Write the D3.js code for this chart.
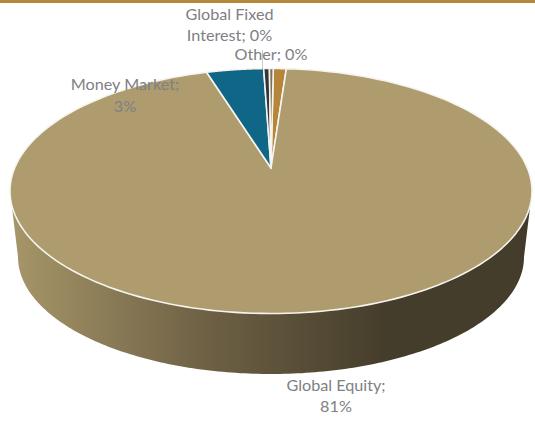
<!DOCTYPE html>
<html>
<head>
<meta charset="utf-8">
<script src="https://cdn.jsdelivr.net/npm/d3@7/dist/d3.min.js"></script>
<style>
html,body{margin:0;padding:0;background:#fff;overflow:hidden}
svg{display:block}
text{font-family:Lato,"Open Sans",sans-serif;font-size:16.2px;fill:#808084}
</style>
</head>
<body>
<svg id="chart" width="535" height="428"></svg>
<script>
// Allocation shares, clockwise from just right of twelve o'clock.
const categories = ["Unlabelled", "Global Equity", "Money Market", "Global Fixed Interest", "Other"];
const shares = [0.68, 81, 3, 0.3, 0.2];
const sliceColours = ["#b5853a", "#ae9b6e", "#0f6687", "#34343e", "#7d7350"];
const wallStops = ["#a59568", "#6d6044", "#453d2b", "#453d2b", "#3f3828"];
const wallOffsets = [0.01, 0.38, 0.72, 0.97, 1];

const svg = d3.select("#chart");
const defs = svg.append("defs");

// Projected tilt of the disc: rim ellipse, off-centre apex and lower wall edge.
const rim = {cx: 271, cy: 191, rx: 261, ry: 122.5};
const apex = {x: 271, y: 168};
const base = {cx: 271, cy: 257, rx: 253, ry: 117};

const startDegrees = 0.5;
const toRadians = Math.PI / 180;
const pie = d3.pie().sort(null).value(d => d)
  .startAngle(startDegrees * toRadians)
  .endAngle(2 * Math.PI + startDegrees * toRadians);
const arcs = pie(shares);

// Maps an angle around the disc onto the projected ellipse.
const onEllipse = (e, a) => [e.cx + e.rx * Math.sin(a), e.cy - e.ry * Math.cos(a)];
const sweep = (e, a0, a1) => d3.range(0, 1.0001, 1 / 180)
  .map(t => onEllipse(e, a0 + (a1 - a0) * t));
const line = d3.line();

// Top accent rule.
svg.append("rect").attr("width", 535).attr("height", 3).attr("fill", "#b5883a");

// Side wall, shaded from left to right.
const wallGrad = defs.append("linearGradient").attr("id", "wall")
  .attr("gradientUnits", "userSpaceOnUse")
  .attr("x1", rim.cx - rim.rx).attr("x2", rim.cx + rim.rx).attr("y1", 0).attr("y2", 0);
wallStops.forEach((c, i) => wallGrad.append("stop").attr("offset", wallOffsets[i]).attr("stop-color", c));

const wallOutline = sweep(rim, -Math.PI / 2, Math.PI / 2)
  .concat(sweep(base, Math.PI / 2, 3 * Math.PI / 2));
svg.append("path").attr("d", line(wallOutline) + "Z").attr("fill", "url(#wall)");

// Top face slices.
svg.append("g").selectAll("path").data(arcs).join("path")
  .attr("d", d => line([[apex.x, apex.y], ...sweep(rim, d.startAngle, d.endAngle)]) + "Z")
  .attr("fill", (d, i) => sliceColours[i])
  .attr("stroke", "#f6f4ee")
  .attr("stroke-width", 1.6)
  .attr("stroke-linejoin", "round");

// Leader from the Other label down to the rim.
svg.append("line")
  .attr("x1", 262.5).attr("x2", 262.5).attr("y1", 50).attr("y2", 69)
  .attr("stroke", "#c8c8c8").attr("stroke-width", 1);

// Data labels.
const labelLines = [
  {x: 229.5, y: 20, text: "Global Fixed"},
  {x: 229.5, y: 41, text: "Interest; 0%"},
  {x: 271, y: 60, text: "Other; 0%"},
  {x: 125, y: 90, text: "Money Market;"},
  {x: 125, y: 112, text: "3%"},
  {x: 336, y: 391, text: "Global Equity;"},
  {x: 336, y: 412, text: "81%"}
];
svg.append("g").selectAll("text").data(labelLines).join("text")
  .attr("x", d => d.x).attr("y", d => d.y)
  .attr("text-anchor", "middle")
  .text(d => d.text);
</script>
</body>
</html>
